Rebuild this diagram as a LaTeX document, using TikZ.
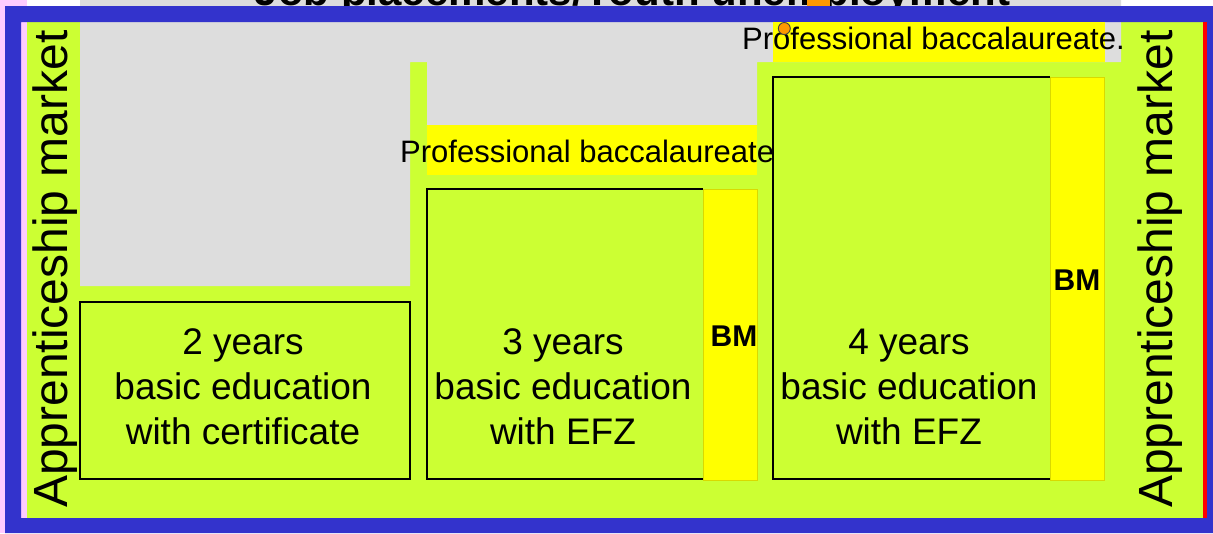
\documentclass[tikz,border=0pt]{standalone}
\usepackage{fontspec}
\setmainfont{Liberation Sans}
\definecolor{frameblue}{HTML}{3333CC}
\definecolor{lime}{HTML}{CCFF33}
\definecolor{lightgray}{HTML}{DDDDDD}
\definecolor{bmyellow}{HTML}{FFFF00}
\definecolor{pinkstrip}{HTML}{FFCCFF}
\definecolor{dotorange}{HTML}{FF9900}
\definecolor{edgered}{HTML}{FF0000}
\begin{document}
\begin{tikzpicture}[x=1pt,y=-1pt,
  lbl/.style={inner sep=0pt, text=black},
  yeartext/.style={lbl, align=center, font=\fontsize{37}{45}\selectfont},
  bmtext/.style={lbl, font=\fontsize{30}{36}\bfseries\selectfont},
  bactext/.style={lbl, anchor=base west, font=\fontsize{31}{37}\selectfont},
  sidetext/.style={lbl, anchor=base, rotate=90, font=\fontsize{48}{56}\selectfont},
  boxline/.style={draw=black, line width=2pt},
  bmstrip/.style={fill=bmyellow, draw=bmyellow!85!black, line width=0.4pt}]
\useasboundingbox (0,0) rectangle (1213,533);
\fill[white] (0,0) rectangle (1213,533);

% outer strips and field
\fill[pinkstrip] (0,0) rectangle (27,533);
\fill[lime] (27,22) rectangle (1203,518);

% grey background with its stepped lower edge
\fill[lightgray] (80,0) -- (1121,0) -- (1121,62) -- (757,62) -- (757,125)
  -- (427,125) -- (427,62) -- (410,62) -- (410,286) -- (80,286) -- cycle;

% heading, partly hidden by the frame
\node[lbl, anchor=base, font=\fontsize{42}{50}\bfseries\selectfont] (title) at (632.5,5)
  {Job placements/Youth unemployment};
\fill[dotorange] (807,0) rectangle (830,6);

% frame
\fill[frameblue, even odd rule] (5,6) rectangle (1213,533) (21,22) rectangle (1207,518);
\fill[edgered] (1203,22) rectangle (1207,518);

% professional baccalaureate bands
\fill[bmyellow] (773,22) rectangle (1105,62);
\fill[bmyellow] (427,125) rectangle (757,175);

% 2-year programme
\draw[boxline] (80,302) rectangle (410,479);
\node[yeartext] (two) at (243,387) {2 years\\basic education\\with certificate};

% 3-year programme
\draw[bmstrip] (703,189) rectangle (757,480);
\draw[boxline] (703,189) -- (427,189) -- (427,479) -- (703,479);
\node[yeartext] (three) at (563,387) {3 years\\basic education\\with EFZ};
\node[bmtext, anchor=base] (bm3) at (734,346) {BM};

% 4-year programme
\draw[bmstrip] (1050,77) rectangle (1104,480);
\draw[boxline] (1050,77) -- (773,77) -- (773,479) -- (1050,479);
\node[yeartext] (four) at (909,387) {4 years\\basic education\\with EFZ};
\node[bmtext, anchor=base] (bm4) at (1077,290) {BM};

% baccalaureate labels
\node[bactext] (bacmid) at (400,162.5) {Professional baccalaureate};
\node[bactext] (bactop) at (742,49) {Professional baccalaureate.};
\fill[dotorange, draw=black!75, line width=0.9pt] (784.3,28.5) circle[radius=6];

% side labels
\node[sidetext] (leftmarket) at (67,269) {Apprenticeship market};
\node[sidetext] (rightmarket) at (1172,269) {Apprenticeship market};
\end{tikzpicture}
\end{document}
